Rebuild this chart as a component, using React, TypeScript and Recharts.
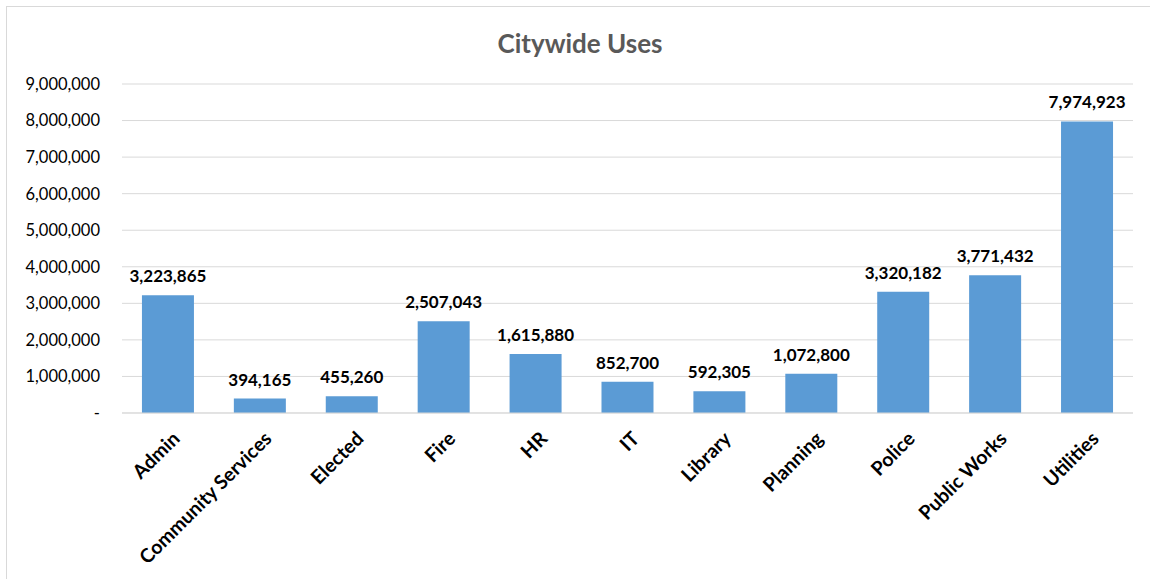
import React from "react";
import { BarChart, Bar, XAxis, YAxis, CartesianGrid, LabelList } from "recharts";

const categories = ["Admin", "Community Services", "Elected", "Fire", "HR", "IT", "Library", "Planning", "Police", "Public Works", "Utilities"];
const uses = [3223865, 394165, 455260, 2507043, 1615880, 852700, 592305, 1072800, 3320182, 3771432, 7974923];
const yTicks = [0, 1000000, 2000000, 3000000, 4000000, 5000000, 6000000, 7000000, 8000000, 9000000];

const data = categories.map((name, i) => ({ name, value: uses[i] }));

const FONT = "Lato, 'Open Sans', sans-serif";
const fmt = (v: number) => (v === 0 ? "-" : v.toLocaleString("en-US"));

const XTick = (props: any) => {
  const { x, y, payload } = props;
  return (
    <g transform={`translate(${x + 8},${y + 14})`}>
      <text
        x={0}
        y={0}
        dy={7}
        textAnchor="end"
        transform="rotate(-45)"
        fontFamily={FONT}
        fontWeight={700}
        fontSize={19.5}
        fill="#000"
      >
        {payload.value}
      </text>
    </g>
  );
};

export default function App() {
  return (
    <div style={{ position: "absolute", left: 0, top: 0, width: 1150, height: 579, background: "#fff", overflow: "hidden" }}>
      <div style={{ position: "absolute", left: 6, top: 6, width: 1160, height: 600, border: "1px solid #d9d9d9", boxSizing: "border-box" }} />
      <div
        style={{
          position: "absolute",
          left: 0,
          width: 1160,
          top: 26,
          textAlign: "center",
          fontFamily: FONT,
          fontWeight: 700,
          fontSize: 26,
          color: "#595959",
          lineHeight: "34px",
        }}
      >
        Citywide Uses
      </div>
      <div style={{ position: "absolute", left: 0, top: 0 }}>
        <BarChart width={1150} height={579} data={data} margin={{ top: 84, right: 17, bottom: 0, left: 0 }} barCategoryGap="21.7%">
          <CartesianGrid vertical={false} stroke="#d9d9d9" strokeWidth={1} />
          <XAxis
            dataKey="name"
            height={166}
            interval={0}
            tickLine={false}
            axisLine={{ stroke: "#d9d9d9", strokeWidth: 1 }}
            tick={<XTick />}
          />
          <YAxis
            width={122}
            domain={[0, 9000000]}
            ticks={yTicks}
            interval={0}
            tickFormatter={fmt}
            axisLine={false}
            tickLine={false}
            tickSize={0}
            tickMargin={22}
            tick={{ fontFamily: FONT, fontSize: 16.5, fill: "#000" }}
          />
          <Bar dataKey="value" fill="#5b9bd5" isAnimationActive={false}>
            <LabelList
              dataKey="value"
              position="top"
              offset={13}
              formatter={(v: any) => Number(v).toLocaleString("en-US")}
              style={{ fontFamily: FONT, fontWeight: 700, fontSize: 17, fill: "#000" }}
            />
          </Bar>
        </BarChart>
      </div>
    </div>
  );
}
